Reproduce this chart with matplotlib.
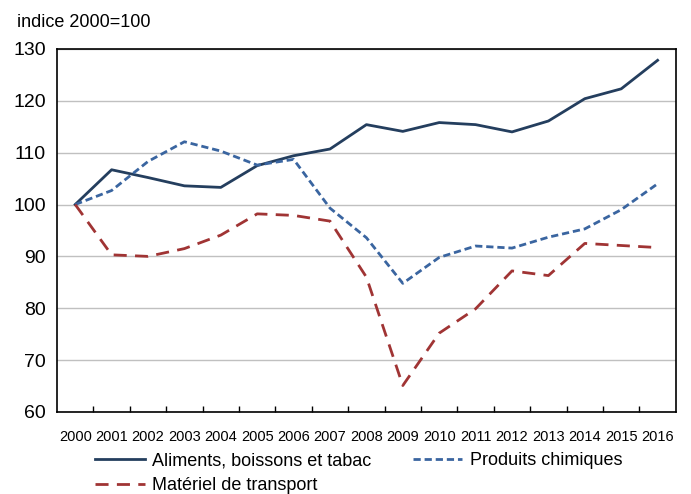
import matplotlib
matplotlib.use("Agg")
import matplotlib.pyplot as plt
import numpy as np

plt.rcParams['font.family'] = ['Liberation Sans Narrow', 'Liberation Sans', 'DejaVu Sans']

# years and index series (2000=100)
years = [str(y) for y in range(2000, 2017)]
aliments = [100, 106.7, 105.2, 103.6, 103.3, 107.5, 109.4, 110.7, 115.4, 114.1,
            115.8, 115.4, 114.0, 116.1, 120.4, 122.3, 127.8]
chimiques = [100, 102.7, 108.3, 112.1, 110.3, 107.6, 108.7, 99.3, 93.6, 84.8,
             89.8, 92.0, 91.6, 93.7, 95.3, 99.0, 104.0]
transport = [100, 90.3, 90.0, 91.5, 94.1, 98.2, 97.9, 96.8, 86.0, 65.1,
             75.2, 79.9, 87.2, 86.3, 92.5, 92.1, 91.7]

fig = plt.figure(figsize=(6.91, 4.94), dpi=100)
ax = fig.add_axes([0.0825, 0.166, 0.8955, 0.735])

x = np.arange(len(years))
l1, = ax.plot(x, aliments, color='#243e5e', lw=2.0, label='Aliments, boissons et tabac')
l2, = ax.plot(x, chimiques, color='#3a65a0', lw=2.0, dashes=(2.6, 1.4),
              label='Produits chimiques')
l3, = ax.plot(x, transport, color='#a03434', lw=2.0, dashes=(4.7, 3.0),
              label='Matériel de transport')

ax.set_xlim(-0.5, 16.5)
ax.set_ylim(60, 130)
ax.set_yticks(range(60, 131, 10))
ax.yaxis.grid(True, color='#c0c0c0', lw=1)
ax.set_axisbelow(True)
ax.tick_params(axis='y', length=0, labelsize=14, pad=8)

ax.set_xticks(x)
ax.set_xticklabels(years, fontsize=10.5)
ax.set_xticks(np.arange(0.5, 16, 1), minor=True)
ax.tick_params(axis='x', which='major', length=0, pad=13)
ax.tick_params(axis='x', which='minor', direction='in', length=4, width=1)

for s in ax.spines.values():
    s.set_color('black')
    s.set_linewidth(1.2)

fig.text(0.024, 0.955, 'indice 2000=100', fontsize=13, va='center', ha='left')

fig.legend(handles=[l1, l3, l2], ncol=2, frameon=False, fontsize=13,
           loc='upper left', bbox_to_anchor=(0.1375, 0.085),
           handlelength=2.75, columnspacing=2.3, handletextpad=0.4,
           labelspacing=0.45, borderaxespad=0, borderpad=0)

fig.savefig('out.png', dpi=100)
